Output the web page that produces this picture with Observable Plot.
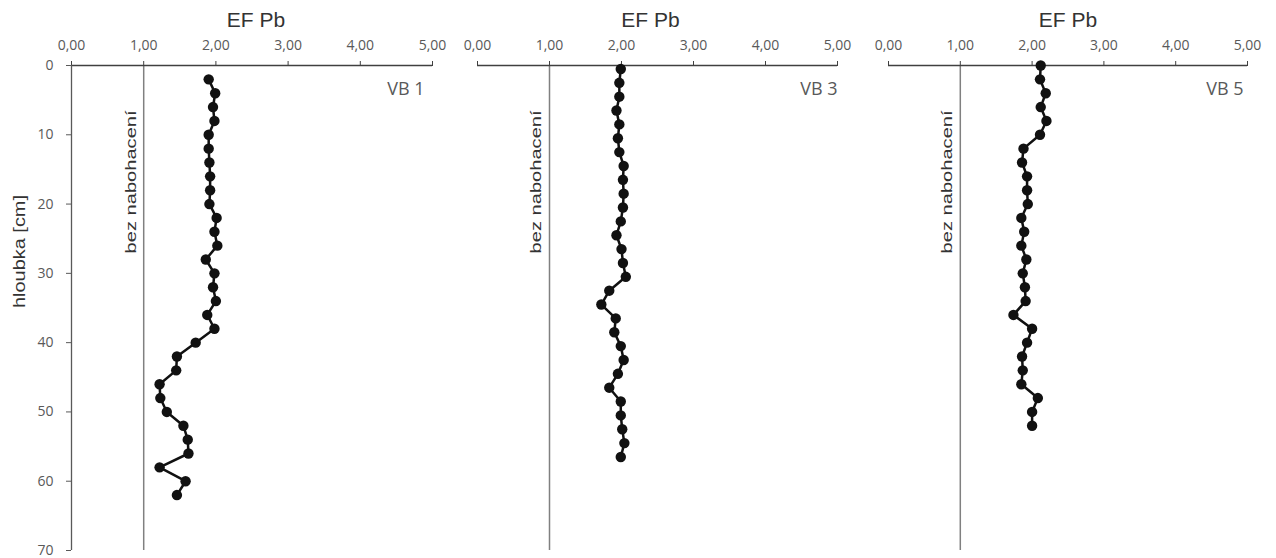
<!DOCTYPE html>
<html><head><meta charset="utf-8">
<script src="https://cdn.jsdelivr.net/npm/d3@7"></script>
<script src="https://cdn.jsdelivr.net/npm/@observablehq/plot@0.6"></script>
<style>
body{margin:0;background:#fff;}
#wrap{position:relative;width:1276px;height:558px;background:#fff;}
#wrap svg{position:absolute;top:0;}
</style></head><body><div id="wrap"></div>
<script>
// Depth (cm) and enrichment factor EF Pb for each profile
const depthVB1 = [2,4,6,8,10,12,14,16,18,20,22,24,26,28,30,32,34,36,38,40,42,44,46,48,50,52,54,56,58,60,62];
const efVB1    = [1.90,1.99,1.96,1.98,1.90,1.90,1.91,1.92,1.92,1.91,2.01,1.98,2.02,1.86,1.98,1.96,2.00,1.88,1.98,1.72,1.46,1.45,1.22,1.23,1.32,1.55,1.61,1.62,1.22,1.58,1.46];
const depthVB3 = [0.5,2.5,4.5,6.5,8.5,10.5,12.5,14.5,16.5,18.5,20.5,22.5,24.5,26.5,28.5,30.5,32.5,34.5,36.5,38.5,40.5,42.5,44.5,46.5,48.5,50.5,52.5,54.5,56.5];
const efVB3    = [1.99,1.97,1.97,1.93,1.97,1.95,1.97,2.03,2.02,2.03,2.02,1.99,1.93,2.00,2.02,2.06,1.83,1.72,1.92,1.90,1.99,2.03,1.95,1.83,1.99,1.99,2.01,2.04,1.99];
const depthVB5 = [0,2,4,6,8,10,12,14,16,18,20,22,24,26,28,30,32,34,36,38,40,42,44,46,48,50,52];
const efVB5    = [2.12,2.11,2.19,2.12,2.20,2.11,1.88,1.86,1.93,1.93,1.94,1.85,1.89,1.85,1.92,1.87,1.90,1.91,1.74,2.00,1.93,1.86,1.87,1.85,2.08,2.00,2.00];
const panelNames = ["VB 1","VB 3","VB 5"];
const xTicks = [0,1,2,3,4,5];
const yTicks = [0,10,20,30,40,50,60,70];
const noEnrichment = [1];
const xTitle = "EF Pb";
const yTitle = "hloubka [cm]";
const refLabel = "bez nabohacení";

const fmt = v => d3.format(".2f")(v).replace(".", ",");
const layouts = [
  {left:0, width:440, mL:71, mR:8, titleDx:4, nameDx:-8},
  {left:440, width:410, mL:37, mR:13, titleDx:-7, nameDx:0},
  {left:850, width:426, mL:38, mR:29, titleDx:0, nameDx:-4}
];
const series = [[depthVB1, efVB1],[depthVB3, efVB3],[depthVB5, efVB5]];

series.forEach(([depth, ef], i) => {
  const L = layouts[i];
  const data = depth.map((d, j) => ({depth: d, ef: ef[j]}));
  const marks = [
    Plot.ruleX(noEnrichment, {stroke:"#808080", strokeWidth:1.5}),
    Plot.ruleY([0], {stroke:"#404040", strokeWidth:1.3}),
    Plot.axisX({anchor:"top", ticks:xTicks, tickFormat:fmt, tickSize:5, tickPadding:10.5, fontSize:14, fill:"#595959", stroke:"#404040", label:null}),
    Plot.text([xTitle], {frameAnchor:"top", dy:-53, dx:L.titleDx, fontSize:21, fontFamily:"Liberation Sans", fill:"#333"}),
    Plot.text([panelNames[i]], {x:5, y:3.45, textAnchor:"end", dx:L.nameDx, fontSize:18, fill:"#595959"}),
    Plot.text([refLabel], {x:noEnrichment[0], y:16.8, rotate:-90, dx:-13, fontSize:15, fontFamily:"Liberation Sans", fill:"#333"}),
    Plot.line(data, {x:"ef", y:"depth", stroke:"#111", strokeWidth:2.5}),
    Plot.dot(data, {x:"ef", y:"depth", r:5.2, fill:"#111", stroke:"none"})
  ];
  if (i === 0) {
    marks.push(
      Plot.ruleX([0], {stroke:"#595959", strokeWidth:1.3}),
      Plot.axisY({ticks:yTicks, tickSize:5, tickPadding:13, fontSize:14, fill:"#595959", stroke:"#595959", label:null}),
      Plot.text([yTitle], {frameAnchor:"left", dx:-52, rotate:-90, fontSize:16, fontFamily:"Liberation Sans", fill:"#333"})
    );
  }
  const svg = Plot.plot({
    width: L.width, height: 558,
    marginLeft: L.mL, marginRight: L.mR, marginTop: 65, marginBottom: 8,
    style: {fontFamily:"'Open Sans', sans-serif", fontSize:"14px", background:"transparent", overflow:"visible"},
    x: {domain:[0,5], axis:null},
    y: {domain:[0,70], reverse:true, axis:null},
    marks
  });
  svg.style.left = L.left + "px";
  d3.select(svg).selectAll("text").each(function(){
    const t = this.textContent;
    if (t === refLabel) d3.select(this).attr("textLength", 143).attr("lengthAdjust", "spacingAndGlyphs");
    if (t === yTitle) d3.select(this).attr("textLength", 113).attr("lengthAdjust", "spacingAndGlyphs");
  });
  document.getElementById("wrap").appendChild(svg);
});
</script></body></html>
